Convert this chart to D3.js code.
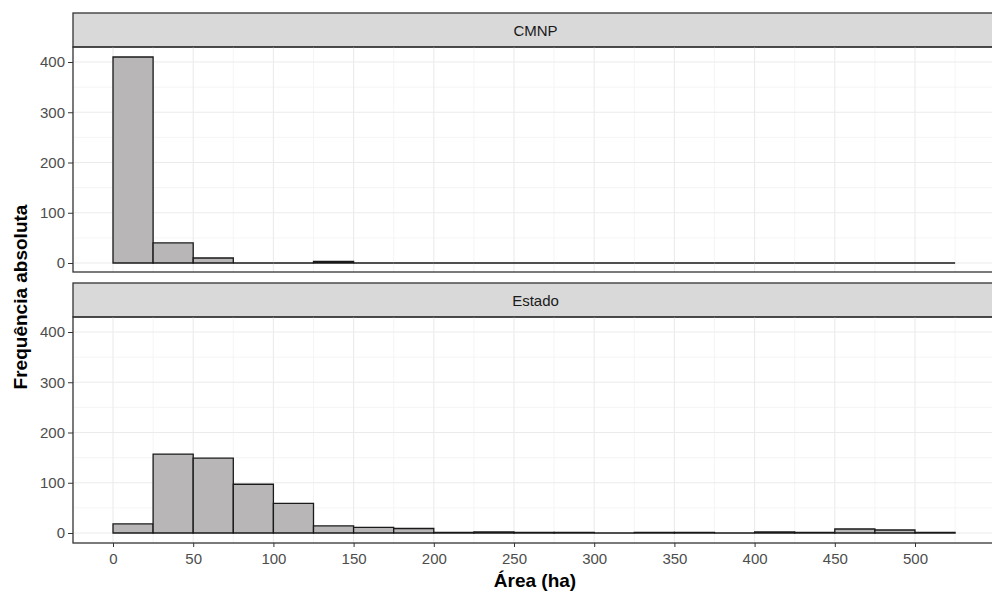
<!DOCTYPE html>
<html><head><meta charset="utf-8">
<script src="https://cdn.jsdelivr.net/npm/d3@7"></script>
<style>body{margin:0;background:#fff;font-family:"Liberation Sans",Arial,sans-serif}</style>
</head><body><svg id="c" width="992" height="592"></svg>
<script>
const binStarts = [0,25,50,75,100,125,150,175,200,225,250,275,300,325,350,375,400,425,450,475,500];
const binWidth = 25;
const cmnpCounts  = [410,40,10,0,0,3,0,0,0,0,0,0,0,0,0,0,0,0,0,0,0];
const estadoCounts = [18,157,149,97,59,14,11,9,1,2,1,1,0,1,1,0,2,1,8,6,1];
const panels = ["CMNP","Estado"];
const xTicks = [0,50,100,150,200,250,300,350,400,450,500];
const yTicks = [0,100,200,300,400];

const svg = d3.select("#c");
const x = d3.scaleLinear().domain([0,500]).range([113,915]);
const panelLeft = 73, panelRight = 998;
const layout = [{stripTop:13, panelTop:47, panelBottom:272, counts:cmnpCounts},
                {stripTop:283, panelTop:317, panelBottom:543, counts:estadoCounts}];
const FONT = "Liberation Sans, Arial, sans-serif";

layout.forEach((L,i)=>{
  const y = d3.scaleLinear().domain([0,400]).range([L.panelTop+216, L.panelTop+15]);
  const g = svg.append("g");
  // strip
  g.append("rect").attr("x",panelLeft).attr("y",L.stripTop).attr("width",panelRight-panelLeft).attr("height",L.panelTop-L.stripTop)
    .attr("fill","#d9d9d9").attr("stroke","#333").attr("stroke-width",1.3);
  g.append("text").attr("x",(panelLeft+panelRight)/2).attr("y",(L.stripTop+L.panelTop)/2+5.5)
    .attr("text-anchor","middle").attr("font-size",15).attr("fill","#1a1a1a").text(panels[i]);
  // minor grid
  const minorX = d3.range(25,551,50);
  g.selectAll(".mx").data(minorX).join("line").attr("x1",d=>x(d)).attr("x2",d=>x(d))
    .attr("y1",L.panelTop).attr("y2",L.panelBottom).attr("stroke","#f2f2f2").attr("stroke-width",0.8);
  g.selectAll(".my").data([50,150,250,350]).join("line").attr("x1",panelLeft).attr("x2",panelRight)
    .attr("y1",d=>y(d)).attr("y2",d=>y(d)).attr("stroke","#f2f2f2").attr("stroke-width",0.8);
  // major grid
  g.selectAll(".gx").data(xTicks.concat([550])).join("line").attr("x1",d=>x(d)).attr("x2",d=>x(d))
    .attr("y1",L.panelTop).attr("y2",L.panelBottom).attr("stroke","#ebebeb").attr("stroke-width",1.1);
  g.selectAll(".gy").data(yTicks).join("line").attr("x1",panelLeft).attr("x2",panelRight)
    .attr("y1",d=>y(d)).attr("y2",d=>y(d)).attr("stroke","#ebebeb").attr("stroke-width",1.1);
  // bars (paths so zero-height bins still show their outline)
  g.selectAll(".bar").data(binStarts).join("path")
    .attr("d",(d,j)=>{
      const x0=x(d), x1=x(d+binWidth), y0=y(0), y1=y(L.counts[j]);
      return `M${x0},${y0}V${y1}H${x1}V${y0}Z`;
    })
    .attr("fill","#b8b6b6").attr("stroke","#1a1a1a").attr("stroke-width",1.3);
  // panel border
  g.append("rect").attr("x",panelLeft).attr("y",L.panelTop).attr("width",panelRight-panelLeft).attr("height",L.panelBottom-L.panelTop)
    .attr("fill","none").attr("stroke","#333").attr("stroke-width",1.3);
  // y axis
  const ya = g.append("g").attr("transform",`translate(${panelLeft},0)`)
    .call(d3.axisLeft(y).tickValues(yTicks).tickSize(5).tickPadding(3));
  ya.select(".domain").remove();
  ya.selectAll("line").attr("stroke","#333");
  ya.selectAll("text").attr("font-size",15).attr("fill","#4d4d4d").attr("font-family",FONT);
  if(i===1){
    const xa = g.append("g").attr("transform",`translate(0,${L.panelBottom})`)
      .call(d3.axisBottom(x).tickValues(xTicks).tickSize(4).tickPadding(6));
    xa.select(".domain").remove();
    xa.selectAll("line").attr("stroke","#333");
    xa.selectAll("text").attr("font-size",15).attr("fill","#4d4d4d").attr("font-family",FONT);
  }
});

svg.append("text").attr("x",535).attr("y",587).attr("text-anchor","middle")
  .attr("font-size",19).attr("font-weight","bold").attr("fill","#000").text("Área (ha)");
svg.append("text").attr("transform","translate(27,297) rotate(-90)").attr("text-anchor","middle")
  .attr("font-size",19).attr("font-weight","bold").attr("fill","#000").text("Frequência absoluta");
</script></body></html>
